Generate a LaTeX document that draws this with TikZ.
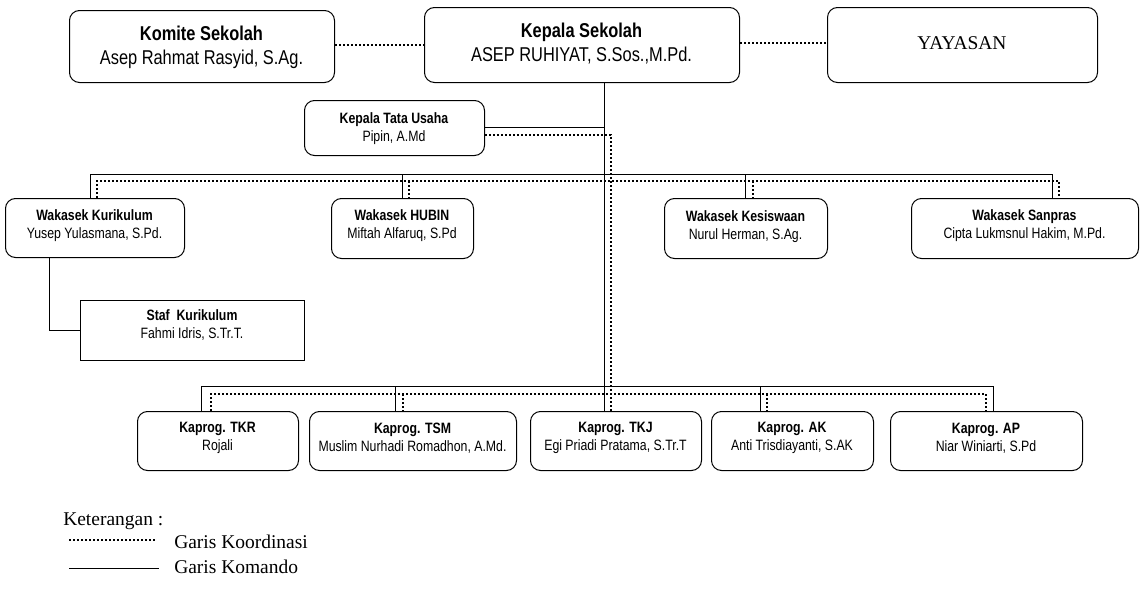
\documentclass[tikz,border=0pt]{standalone}
\usepackage{fontspec}
\setmainfont{Liberation Serif}
\newfontfamily\narrowsans[FakeStretch=0.82]{Liberation Sans}
\tikzset{
 rbox/.style={draw, line width=0.75pt, rounded corners=7.5pt, inner sep=0pt},
 sbox/.style={draw, line width=0.75pt, inner sep=0pt},
 bigtxt/.style={align=center, inner sep=0pt, font=\narrowsans\fontsize{15}{18}\selectfont},
 smtxt/.style={align=center, inner sep=0pt, font=\narrowsans\fontsize{11.25}{13.5}\selectfont},
 serif/.style={align=center, inner sep=0pt, font=\fontsize{14.6}{18.5}\selectfont},
 cmd/.style={line width=0.75pt},
 coord/.style={line width=1.5pt, dash pattern=on 1.5pt off 1.5pt},
}
% name, x1, y1, x2, y2, box style, text style, text centre y, text
\newcommand\orgbox[9]{%
 \node[#6, minimum width={(#4-#2)*0.75pt}, minimum height={(#5-#3)*0.75pt}] (#1) at ({(#2+#4)/2+0.5},{(#3+#5)/2+0.5}) {};
 \node[#7] (#1-t) at ({(#2+#4)/2},#8) {#9};
}
\begin{document}
\begin{tikzpicture}[x=0.75pt,y=-0.75pt]
\useasboundingbox (0,0) rectangle (1143,589);
% top row
\orgbox{komite}{69}{10}{334}{82}{rbox}{bigtxt}{47}{\textbf{Komite Sekolah}\\Asep Rahmat Rasyid, S.Ag.}
\orgbox{kepala}{424}{7}{739}{82}{rbox}{bigtxt}{44}{\textbf{Kepala Sekolah}\\ASEP RUHIYAT, S.Sos.,M.Pd.}
\orgbox{yayasan}{827}{7}{1097}{82}{rbox}{serif}{43}{YAYASAN}
% tata usaha
\orgbox{ktu}{304}{100}{484}{155}{rbox}{smtxt}{129}{\textbf{Kepala Tata Usaha}\\Pipin, A.Md}
% wakasek
\orgbox{kurikulum}{5}{198}{184}{257}{rbox}{smtxt}{226}{\textbf{Wakasek Kurikulum}\\Yusep Yulasmana, S.Pd.}
\orgbox{hubin}{331}{198}{473}{258}{rbox}{smtxt}{226}{\textbf{Wakasek HUBIN}\\Miftah Alfaruq, S.Pd}
\orgbox{kesiswaan}{664}{198}{827}{258}{rbox}{smtxt}{227}{\textbf{Wakasek Kesiswaan}\\Nurul Herman, S.Ag.}
\orgbox{sanpras}{911}{198}{1138}{258}{rbox}{smtxt}{226}{\textbf{Wakasek Sanpras}\\Cipta Lukmsnul Hakim, M.Pd.}
% staf
\orgbox{staf}{80}{300}{304}{360}{sbox}{smtxt}{325}{\textbf{Staf\ \ Kurikulum}\\Fahmi Idris, S.Tr.T.}
% kaprog
\orgbox{tkr}{137}{411}{298}{470}{rbox}{smtxt}{438}{\textbf{Kaprog. TKR}\\Rojali}
\orgbox{tsm}{309}{411}{516}{470}{rbox}{smtxt}{438}{\textbf{Kaprog. TSM}\\Muslim Nurhadi Romadhon, A.Md.}
\orgbox{tkj}{530}{411}{701}{470}{rbox}{smtxt}{438}{\textbf{Kaprog. TKJ}\\Egi Priadi Pratama, S.Tr.T}
\orgbox{ak}{711}{411}{873}{470}{rbox}{smtxt}{438}{\textbf{Kaprog. AK}\\Anti Trisdiayanti, S.AK}
\orgbox{ap}{890}{411}{1082}{470}{rbox}{smtxt}{438}{\textbf{Kaprog. AP}\\Niar Winiarti, S.Pd}
% junction coordinates
\coordinate (mx) at (604.5,0);
\coordinate (dx) at (611,0);
\coordinate (ky) at (0,127.5);
\coordinate (dy) at (0,135);
\coordinate (ty1) at (0,45);
\coordinate (ty2) at (0,43);
\coordinate (w1) at (90.5,174.5);  \coordinate (w2) at (402.5,174.5);
\coordinate (w3) at (745.5,174.5); \coordinate (w4) at (1052.5,174.5);
\coordinate (v1) at (97,181);  \coordinate (v2) at (409,181);
\coordinate (v3) at (753,181); \coordinate (v4) at (1059,181);
\coordinate (k1) at (201.5,386.5); \coordinate (k2) at (395.5,386.5);
\coordinate (k4) at (760.5,386.5); \coordinate (k5) at (993.5,386.5);
\coordinate (j1) at (211,394); \coordinate (j2) at (403,394);
\coordinate (j4) at (767,394); \coordinate (j5) at (986,394);
\coordinate (sx) at (49.5,0);
% coordination lines (top)
\draw[coord] (komite.east |- ty1) -- (kepala.west |- ty1);
\draw[coord] (kepala.east |- ty2) -- (yayasan.west |- ty2);
% command lines
\draw[cmd] (kepala.south -| mx) -- (tkj.north -| mx);
\draw[cmd] (ktu.east |- ky) -- (mx |- ky);
\draw[cmd] (w1 |- kurikulum.north) -- (w1) -- (w4) -- (w4 |- sanpras.north);
\draw[cmd] (w2) -- (w2 |- hubin.north);
\draw[cmd] (w3) -- (w3 |- kesiswaan.north);
\draw[cmd] (k1 |- tkr.north) -- (k1) -- (k5) -- (k5 |- ap.north);
\draw[cmd] (k2) -- (k2 |- tsm.north);
\draw[cmd] (k4) -- (k4 |- ak.north);
\draw[cmd] (kurikulum.south -| sx) |- (staf.west);
% coordination lines
\draw[coord] (ktu.east |- dy) -| (tkj.north -| dx);
\draw[coord] (v1 |- kurikulum.north) -- (v1) -- (v4) -- (v4 |- sanpras.north);
\draw[coord] (v2) -- (v2 |- hubin.north);
\draw[coord] (v3) -- (v3 |- kesiswaan.north);
\draw[coord] (j1 |- tkr.north) -- (j1) -- (j5) -- (j5 |- ap.north);
\draw[coord] (j2) -- (j2 |- tsm.north);
\draw[coord] (j4) -- (j4 |- ak.north);
% legend
\node[serif, anchor=base west] (ket) at (63,525) {Keterangan :};
\coordinate (l1a) at (69,540); \coordinate (l1b) at (155,540);
\coordinate (l2a) at (69,568.5); \coordinate (l2b) at (159,568.5);
\draw[coord] (l1a) -- (l1b);
\draw[cmd] (l2a) -- (l2b);
\node[serif, anchor=base west] (gko) at (174,548) {Garis Koordinasi};
\node[serif, anchor=base west] (gkm) at (174,573) {Garis Komando};
\end{tikzpicture}
\end{document}
